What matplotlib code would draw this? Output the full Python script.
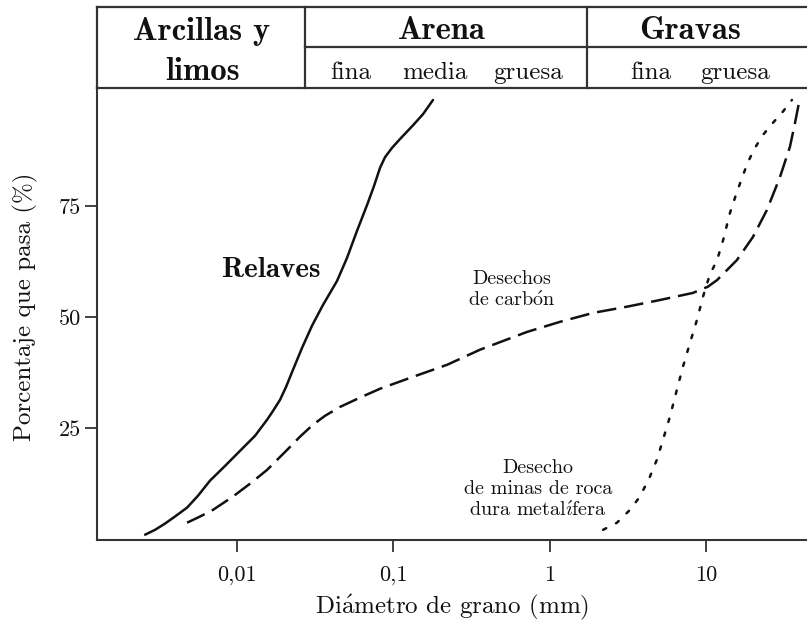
import matplotlib
matplotlib.use('Agg')
import matplotlib.pyplot as plt
from matplotlib.ticker import FixedLocator, FixedFormatter, NullLocator

plt.rcParams['font.family'] = ['cmr10', 'DejaVu Serif']
plt.rcParams['mathtext.fontset'] = 'cm'
plt.rcParams['axes.unicode_minus'] = False

# granulometric curves: grain diameter (mm) vs percent passing
relaves_d = [0.00258, 0.00299, 0.00346, 0.00401, 0.00479, 0.00563, 0.00672,
             0.00838, 0.01045, 0.01304, 0.01424, 0.01556, 0.01699, 0.01884,
             0.02058, 0.02282, 0.02605, 0.03018, 0.03549, 0.04363, 0.05056,
             0.05857, 0.06788, 0.07524, 0.08222, 0.08850, 0.09810, 0.1104,
             0.1337, 0.1549, 0.1795]
relaves_p = [0.9, 2.0, 3.4, 5.0, 7.0, 9.7, 13.1,
             16.4, 19.8, 23.2, 25.0, 26.8, 28.8, 31.3,
             34.2, 38.1, 43.0, 48.0, 52.7, 58.1, 63.3,
             69.4, 75.2, 79.5, 83.6, 86.0, 88.1, 90.1,
             93.2, 95.7, 98.9]

carbon_d = [0.00479, 0.00580, 0.00702, 0.00942, 0.01211, 0.01556, 0.02089,
            0.02530, 0.03064, 0.03656, 0.04560, 0.06122, 0.08222, 0.134,
            0.221, 0.3587, 0.716, 1.17, 1.90, 3.13, 5.08, 8.26, 10.3, 11.8,
            15.8, 20.0, 24.6, 29.8, 34.5, 37.2, 39.4]
carbon_p = [3.6, 5.0, 6.5, 9.5, 12.4, 15.5, 20.0,
            23.0, 25.7, 27.7, 29.7, 31.8, 33.8, 36.5,
            39.2, 42.6, 46.6, 48.9, 50.9, 52.3, 53.8, 55.4, 56.8, 58.3,
            62.8, 68.0, 74.1, 81.5, 88.3, 93.7, 98.2]

roca_d = [2.20, 2.70, 3.27, 3.79, 4.39, 4.86, 5.32, 5.89, 6.53, 7.13, 7.91,
          8.77, 9.58, 10.6, 11.8, 12.9, 14.26, 15.58, 17.02, 18.60, 20.62,
          23.19, 26.48, 30.69, 35.55]
roca_p = [2.0, 3.6, 6.5, 9.5, 14.0, 17.8, 22.3, 27.5, 33.6, 38.7, 44.1,
          49.3, 54.5, 59.5, 62.8, 67.3, 73.4, 77.5, 81.3, 84.9, 88.1,
          91.0, 93.5, 96.0, 98.9]

x_ticks = [0.01, 0.1, 1, 10]
x_labels = ['0,01', '0,1', '1', '10']
y_ticks = [25, 50, 75]
y_labels = ['25', '50', '75']

W, H = 807, 625
fig = plt.figure(figsize=(W / 100, H / 100), dpi=100)

L, R = 97, 807          # pixel edges of the plot
T_HDR, T_PLT, B_PLT = 7, 88, 540

ax = fig.add_axes([L / W, 1 - B_PLT / H, (R - L) / W, (B_PLT - T_PLT) / H])
hd = fig.add_axes([L / W, 1 - T_PLT / H, (R - L) / W, (T_PLT - T_HDR) / H])

ink = '#111111'
edge = '#333333'

ax.plot(relaves_d, relaves_p, color=ink, lw=1.8, solid_capstyle='round',
        solid_joinstyle='round')
l2, = ax.plot(carbon_d, carbon_p, color=ink, lw=1.8, dash_capstyle='butt')
l2.set_dashes([7.8, 3.2])
l3, = ax.plot(roca_d, roca_p, color=ink, lw=1.8, dash_capstyle='round')
l3.set_dashes([1.4, 4.4])

ax.set_xscale('log')
ax.set_xlim(0.00127, 44.4)
ax.set_ylim(-0.3, 101.6)
ax.xaxis.set_major_locator(FixedLocator(x_ticks))
ax.xaxis.set_major_formatter(FixedFormatter(x_labels))
ax.xaxis.set_minor_locator(NullLocator())
ax.yaxis.set_major_locator(FixedLocator(y_ticks))
ax.yaxis.set_major_formatter(FixedFormatter(y_labels))

for s in ['top', 'right']:
    ax.spines[s].set_visible(False)
for s in ['left', 'bottom']:
    ax.spines[s].set_color(edge)
    ax.spines[s].set_linewidth(1.5)
ax.tick_params(axis='both', direction='out', length=8.5, width=1.3, color=edge,
               labelsize=16, labelcolor=ink)
ax.tick_params(axis='x', pad=10)
ax.tick_params(axis='y', pad=3)

ax.set_xlabel('Di$\\acute{\\mathrm{a}}$metro de grano (mm)', fontsize=18, color=ink)
ax.xaxis.set_label_coords(0.5, -0.118)
ax.set_ylabel('Porcentaje que pasa (%)', fontsize=18, color=ink)
ax.yaxis.set_label_coords(-0.083, 0.515)

ax.text(0.0165, 59.0, 'Relaves', fontfamily='cmb10', fontsize=21,
        ha='center', va='baseline', color=ink)
ax.text(0.5744, 56.0, 'Desechos\nde carb$\\acute{\\mathrm{o}}$n', fontsize=14.5,
        ha='center', va='center', linespacing=1.2, color=ink)
ax.text(0.843, 11.0, 'Desecho\nde minas de roca\ndura metal$\\acute{\\imath}$fera',
        fontsize=14.5, ha='center', va='center', linespacing=1.2, color=ink)

# header table with the soil classes
hd.set_xlim(0, 1)
hd.set_ylim(0, 1)
hd.axis('off')
c1 = (305 - L) / (R - L)
c2 = (587 - L) / (R - L)
mid = (T_PLT - 47) / (T_PLT - T_HDR)
hkw = dict(color=edge, lw=1.6, clip_on=False, solid_capstyle='projecting')
hd.plot([0, 1], [1, 1], **hkw)
hd.plot([0, 1], [0, 0], **hkw)
hd.plot([0, 0], [0, 1], **hkw)
hd.plot([c1, c1], [0, 1], **hkw)
hd.plot([c2, c2], [0, 1], **hkw)
hd.plot([c1, 1], [mid, mid], **hkw)


def hx(px):
    return (px - L) / (R - L)


def hy(py):
    return (T_PLT - py) / (T_PLT - T_HDR)


bold = dict(fontfamily='cmb10', fontsize=23.5, ha='center', va='baseline', color=ink)
reg = dict(fontsize=18, ha='center', va='baseline', color=ink)
hd.text(hx(202), hy(40), 'Arcillas y', **bold)
hd.text(hx(203), hy(80), 'limos', **bold)
hd.text(hx(442), hy(39), 'Arena', **bold)
hd.text(hx(690), hy(39), 'Gravas', **bold)
hd.text(hx(351), hy(79), 'fina', **reg)
hd.text(hx(435), hy(79), 'media', **reg)
hd.text(hx(528), hy(79), 'gruesa', **reg)
hd.text(hx(651), hy(79), 'fina', **reg)
hd.text(hx(735), hy(79), 'gruesa', **reg)

fig.savefig('out.png', dpi=100)
